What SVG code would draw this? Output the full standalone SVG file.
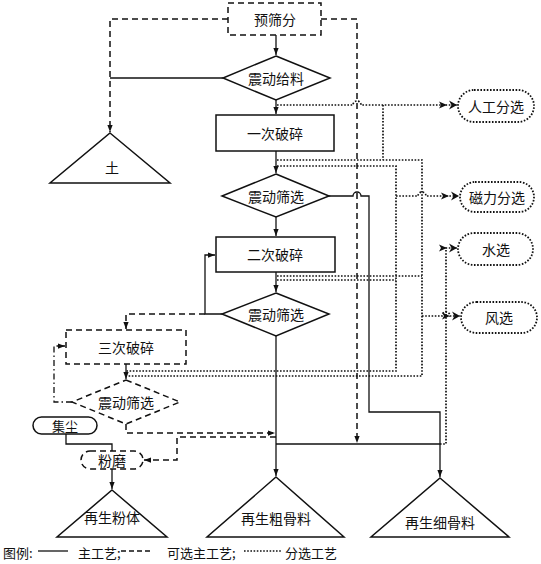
<svg xmlns="http://www.w3.org/2000/svg" width="541" height="564" viewBox="0 0 541 564">
<style>
text{font-family:"Noto Sans CJK SC","Noto Sans",sans-serif;font-size:14px;fill:#111;text-anchor:middle;dominant-baseline:central}
.s{fill:none;stroke:#111;stroke-width:1.3}
.d{fill:none;stroke:#111;stroke-width:1.5;stroke-dasharray:6 4}
.dd{fill:none;stroke:#111;stroke-width:1.3;stroke-dasharray:6 3 1.5 3}
.o{fill:none;stroke:#111;stroke-width:1.7;stroke-dasharray:1.6 1.6}
.n{fill:#fff;stroke:#111;stroke-width:1.5}
.nd{fill:#fff;stroke:#111;stroke-width:1.5;stroke-dasharray:6 4}
.no{fill:#fff;stroke:#111;stroke-width:1.8;stroke-dasharray:1.6 1.6}
.lg{font-size:13px;text-anchor:start}
</style>
<defs>
<marker id="a" viewBox="0 0 8 8" refX="8" refY="4" markerWidth="7" markerHeight="7" orient="auto" markerUnits="userSpaceOnUse"><path d="M0,1 L8,4 L0,7 Z" fill="#111"/></marker>
<marker id="c" viewBox="0 0 18 10" refX="18" refY="5" markerWidth="18" markerHeight="10" orient="auto" markerUnits="userSpaceOnUse"><path d="M0,1.5 L8,5 L0,8.5 L2,5 Z" fill="#111"/><path d="M10,0.5 L18,5 L10,9.5 L12.5,5 Z" fill="#111"/></marker>
</defs>

<g id="connectors">
<!-- solid main process -->
<path class="s" d="M276,35 V55" marker-end="url(#a)"/>
<path class="s" d="M223,78 H110"/>
<path class="s" d="M276,100 V114" marker-end="url(#a)"/>
<path class="s" d="M276,151 V173" marker-end="url(#a)"/>
<path class="s" d="M276,217 V236" marker-end="url(#a)"/>
<path class="s" d="M276,272 V292" marker-end="url(#a)"/>
<path class="s" d="M276,336 V476" marker-end="url(#a)"/>
<path class="s" d="M222,314 H205 V255 H215" marker-end="url(#a)"/>
<path class="s" d="M328,196 H353 a4,4 0 0 1 8,0 H369 V412 H440 V477" marker-end="url(#a)"/>
<path class="s" d="M276,444 H440"/>
<path class="s" d="M66,433 V444 H112 V451"/>
<path class="s" d="M112,469 V489" marker-end="url(#a)"/>
<path class="s" d="M126,364 V379" marker-end="url(#a)"/>
<!-- dashed optional process -->
<path class="d" d="M228,19 H110 V132" marker-end="url(#a)"/>
<path class="d" d="M321,19 H357 V443" marker-end="url(#a)"/>
<path class="d" d="M205,314 H126 V329" marker-end="url(#a)"/>
<path class="d" d="M126,424 V433 H275" marker-end="url(#a)"/>
<path class="d" d="M276,437 H177 V460 H144" marker-end="url(#a)"/>
<path class="dd" d="M72,402 H54 V346 H65" marker-end="url(#a)"/>
<!-- dotted sorting process -->
<path class="o" d="M277,105 H353 a4,4 0 0 1 8,0 H457" marker-end="url(#c)"/>
<path class="o" d="M383,105 V160"/>
<path class="o" d="M277,160 H422 V376 H126"/>
<path class="o" d="M277,166 H396 V371 H126"/>
<path class="o" d="M396,196 H418 a4,4 0 0 1 8,0 H459" marker-end="url(#c)"/>
<path class="o" d="M277,276 H422"/>
<path class="o" d="M277,280 H396"/>
<path class="o" d="M422,316 H442 a4,4 0 0 1 8,0 H460" marker-end="url(#c)"/>
<path class="o" d="M440,444 H446 V248 H457" marker-end="url(#c)"/>
</g>

<g id="yushaifen"><rect class="nd" x="228" y="3" width="93" height="32"/><text x="275" y="19">预筛分</text></g>
<g id="geiliao"><polygon class="n" points="276,56 330,78 276,100 223,78"/><text x="276" y="78">震动给料</text></g>
<g id="tu"><polygon class="n" points="110,133 170,183 50,183"/><text x="112" y="167">土</text></g>
<g id="posui1"><rect class="n" x="216" y="115" width="118" height="36"/><text x="275" y="133">一次破碎</text></g>
<g id="shaixuan1"><polygon class="n" points="276,174 329,196 276,217 222,196"/><text x="276" y="196">震动筛选</text></g>
<g id="posui2"><rect class="n" x="216" y="237" width="119" height="35"/><text x="275" y="254">二次破碎</text></g>
<g id="shaixuan2"><polygon class="n" points="276,293 329,314 276,336 222,314"/><text x="276" y="314">震动筛选</text></g>
<g id="posui3"><rect class="nd" x="66" y="330" width="120" height="34"/><text x="126" y="347">三次破碎</text></g>
<g id="shaixuan3"><polygon class="nd" points="126,380 180,402 126,424 72,402"/><text x="126" y="402">震动筛选</text></g>
<g id="jichen"><rect class="n" x="33" y="417" width="64" height="17" rx="8.5"/><text x="65" y="425.5" style="font-size:13px">集尘</text></g>
<g id="fenmo"><rect class="nd" x="81" y="451" width="62" height="18" rx="9"/><text x="112" y="460">粉磨</text></g>
<g id="fenti"><polygon class="n" points="112,490 167,537 57,537"/><text x="112" y="517">再生粉体</text></g>
<g id="cugu"><polygon class="n" points="276,477 344,537 207,537"/><text x="276" y="518">再生粗骨料</text></g>
<g id="xigu"><polygon class="n" points="440,478 509,537 371,537"/><text x="440" y="522">再生细骨料</text></g>
<g id="rengong"><rect class="no" x="458" y="90" width="76" height="32" rx="16"/><text x="496" y="106">人工分选</text></g>
<g id="cili"><rect class="no" x="460" y="182" width="74" height="30" rx="15"/><text x="497" y="197">磁力分选</text></g>
<g id="shuixuan"><rect class="no" x="458" y="233" width="75" height="32" rx="16"/><text x="496" y="249">水选</text></g>
<g id="fengxuan"><rect class="no" x="461" y="302" width="76" height="31" rx="15.5"/><text x="499" y="317">风选</text></g>

<g id="legend">
<text class="lg" x="3" y="552">图例:</text>
<path class="s" d="M38,551 H68"/>
<text class="lg" x="78" y="552">主工艺;</text>
<path class="d" d="M121,551 H152" style="stroke-dasharray:5 3;stroke-width:1.3"/>
<text class="lg" x="167" y="552">可选主工艺;</text>
<path class="o" d="M244,551 H281" style="stroke-width:1.4"/>
<text class="lg" x="285" y="552">分选工艺</text>
</g>
</svg>
